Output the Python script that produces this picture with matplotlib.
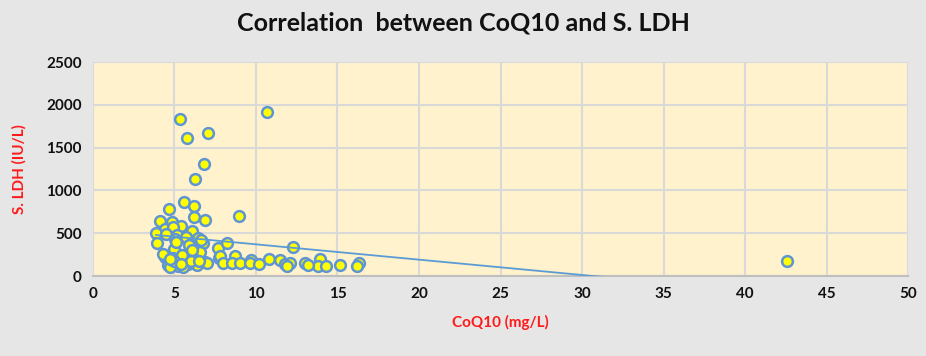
import matplotlib.pyplot as plt

# CoQ10 (mg/L) and S. LDH (IU/L)
coq10 = [5.34, 5.75, 7.04, 10.67, 6.81, 6.28, 5.6, 6.2, 4.66, 8.98, 6.2, 6.87,
         4.09, 4.87, 5.38, 4.42, 4.9, 6.05, 3.87, 4.46, 5.15, 5.69, 6.42, 3.93,
         5.03, 6.77, 5.95, 6.56, 4.99, 4.42, 4.89, 5.44, 6.12, 6.87, 4.62, 5.23,
         5.81, 6.36, 4.75, 5.55, 6.0, 7.69, 7.73, 8.2, 7.79, 8.71, 8.0, 8.51,
         9.02, 9.69, 9.63, 10.2, 10.82, 11.47, 11.78, 12.25, 12.1, 13.0, 13.9,
         13.8, 14.3, 15.15, 16.3, 16.2, 42.56, 5.1, 6.6, 4.3, 5.9, 7.0, 11.9,
         13.2, 6.1, 5.0, 4.7, 5.4, 6.5]
ldh = [1834, 1608, 1667, 1915, 1308, 1133, 861, 821, 782, 700, 693, 654,
       646, 627, 588, 549, 569, 529, 506, 491, 479, 459, 440, 389,
       432, 382, 342, 284, 312, 225, 207, 245, 207, 167, 128, 117,
       140, 128, 100, 105, 180, 323, 207, 389, 234, 234, 148, 148,
       155, 187, 148, 136, 199, 187, 136, 335, 148, 155, 195,
       117, 117, 128, 155, 117, 175, 400, 420, 260, 360, 150, 120,
       130, 300, 170, 200, 140, 170]

# linear trendline (Excel style)
trend_a = 549
trend_b = -17.9

fig = plt.figure(figsize=(9.26, 3.56), dpi=100, facecolor='#E7E6E6')
ax = fig.add_axes([0.1004, 0.2247, 0.8802, 0.6011])
ax.set_facecolor('#FFF2CC')

tx = [min(coq10), max(coq10)]
ty = [trend_a + trend_b * v for v in tx]
ax.scatter(coq10, ldh, s=60, facecolor='#FFFF00', edgecolor='#5F95D2', linewidth=1.8, zorder=3)
ax.plot(tx, ty, color='#5B9BD5', linewidth=1.3, zorder=4)

ax.set_xlim(0, 50)
ax.set_ylim(0, 2500)
ax.set_xticks(range(0, 51, 5))
ax.set_yticks(range(0, 2501, 500))
ax.grid(True, color='#D9D9D9', linewidth=1.5)
ax.set_axisbelow(True)
ax.tick_params(length=0, labelsize=11, colors='#111111', pad=8)
for lab in ax.get_xticklabels() + ax.get_yticklabels():
    lab.set_fontweight('bold')
    lab.set_fontfamily('Lato')
for side in ['top', 'right', 'left']:
    ax.spines[side].set_visible(False)
ax.spines['bottom'].set_color('#BFBFBF')
ax.spines['bottom'].set_linewidth(1.5)

ax.set_xlabel('CoQ10 (mg/L)', color='#FF1A1A', fontsize=11, fontweight='bold', family='Lato', labelpad=10)
ax.set_ylabel('S. LDH (IU/L)', color='#FF1A1A', fontsize=11, fontweight='bold', family='Lato', labelpad=14)
fig.text(0.5, 0.935, 'Correlation  between CoQ10 and S. LDH', ha='center', va='center',
         fontsize=18, fontweight='bold', family='Lato', color='#111111')

fig.savefig('out.png', dpi=100, facecolor=fig.get_facecolor())
